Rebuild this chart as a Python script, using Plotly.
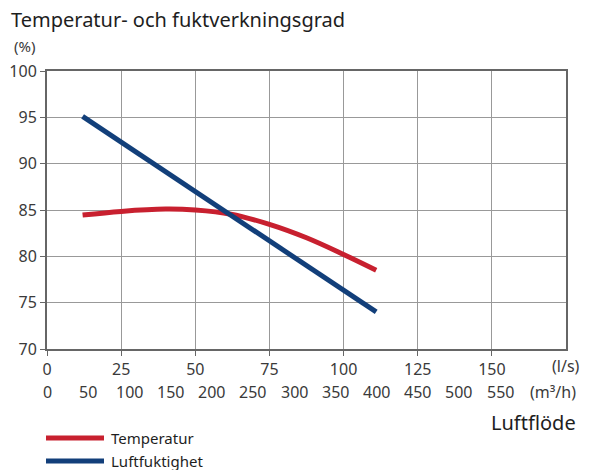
import plotly.graph_objects as go

# Air flow (l/s) and efficiency (%) curves
flow_temp = [12, 25, 40, 50, 62, 75, 87.5, 100, 111]
eff_temp = [84.45, 84.85, 85.1, 85.0, 84.55, 83.45, 82.0, 80.2, 78.5]

flow_hum = [12, 111]
eff_hum = [95.1, 74.0]

series_names = ["Temperatur", "Luftfuktighet"]

ls_ticks = [0, 25, 50, 75, 100, 125, 150]
m3h_ticks = [0, 50, 100, 150, 200, 250, 300, 350, 400, 450, 500, 550]
y_ticks = [70, 75, 80, 85, 90, 95, 100]

RED = "#c8202f"
BLUE = "#123f7a"
TXT = "#3a3a3a"
FONT = "Noto Sans, Open Sans, sans-serif"

L, T, PW, PH = 47, 71, 519, 278  # plot area position and size in px


def px(x):
    return (x - L) / PW


def py(y):
    return (T + PH - y) / PH


fig = go.Figure()
fig.add_trace(go.Scatter(x=flow_temp, y=eff_temp, mode="lines", name=series_names[0],
                         line=dict(color=RED, width=5, shape="spline", smoothing=1.0)))
fig.add_trace(go.Scatter(x=flow_hum, y=eff_hum, mode="lines", name=series_names[1],
                         line=dict(color=BLUE, width=5)))

annotations = [
    dict(text="Temperatur- och fuktverkningsgrad", xref="paper", yref="paper",
         x=px(9), y=py(19), xanchor="left", yanchor="middle", showarrow=False,
         font=dict(size=20, color="#1e1e1e")),
    dict(text="(%)", xref="paper", yref="paper", x=px(12), y=py(46),
         xanchor="left", yanchor="middle", showarrow=False, font=dict(size=15, color=TXT)),
    dict(text="(l/s)", xref="x", yref="paper", x=175, y=py(366),
         xanchor="center", yanchor="middle", showarrow=False, font=dict(size=16, color=TXT)),
    dict(text="(m³/h)", xref="x", yref="paper", x=170.5, y=py(392),
         xanchor="center", yanchor="middle", showarrow=False, font=dict(size=16, color=TXT)),
    dict(text="Luftflöde", xref="paper", yref="paper", x=px(578), y=py(422),
         xanchor="right", yanchor="middle", showarrow=False, font=dict(size=20, color="#1e1e1e")),
]
for v in m3h_ticks:
    annotations.append(dict(text=str(v), xref="x", yref="paper", x=v / 3.6, y=py(392),
                            xanchor="center", yanchor="middle", showarrow=False,
                            font=dict(size=16, color=TXT)))

# Legend drawn as key lines with labels below the chart
shapes = []
for name, color, yy in [(series_names[0], RED, 438), (series_names[1], BLUE, 461)]:
    shapes.append(dict(type="line", xref="paper", yref="paper", x0=px(46), x1=px(104),
                       y0=py(yy), y1=py(yy), line=dict(color=color, width=5)))
    annotations.append(dict(text=name, xref="paper", yref="paper", x=px(109), y=py(yy),
                            xanchor="left", yanchor="middle", showarrow=False,
                            font=dict(size=15, color="#1e1e1e")))

fig.update_layout(
    width=593, height=470,
    margin=dict(l=L, r=593 - L - PW, t=T, b=470 - T - PH, autoexpand=False),
    paper_bgcolor="white", plot_bgcolor="white",
    font=dict(family=FONT, color=TXT),
    showlegend=False,
    annotations=annotations,
    shapes=shapes,
    xaxis=dict(range=[0, 175], tickvals=ls_ticks, showgrid=True, gridcolor="#999",
               gridwidth=1, showline=True, linecolor="#666", linewidth=2, mirror=True,
               ticks="outside", ticklen=5, tickcolor="#666", zeroline=False,
               tickfont=dict(size=16, color=TXT), fixedrange=True),
    yaxis=dict(range=[70, 100], tickvals=y_ticks, showgrid=True, gridcolor="#999",
               gridwidth=1, showline=True, linecolor="#666", linewidth=2, mirror=True,
               ticks="outside", ticklen=5, tickcolor="#666", zeroline=False,
               tickfont=dict(size=16, color=TXT), fixedrange=True),
)

fig.write_html("out.html")
